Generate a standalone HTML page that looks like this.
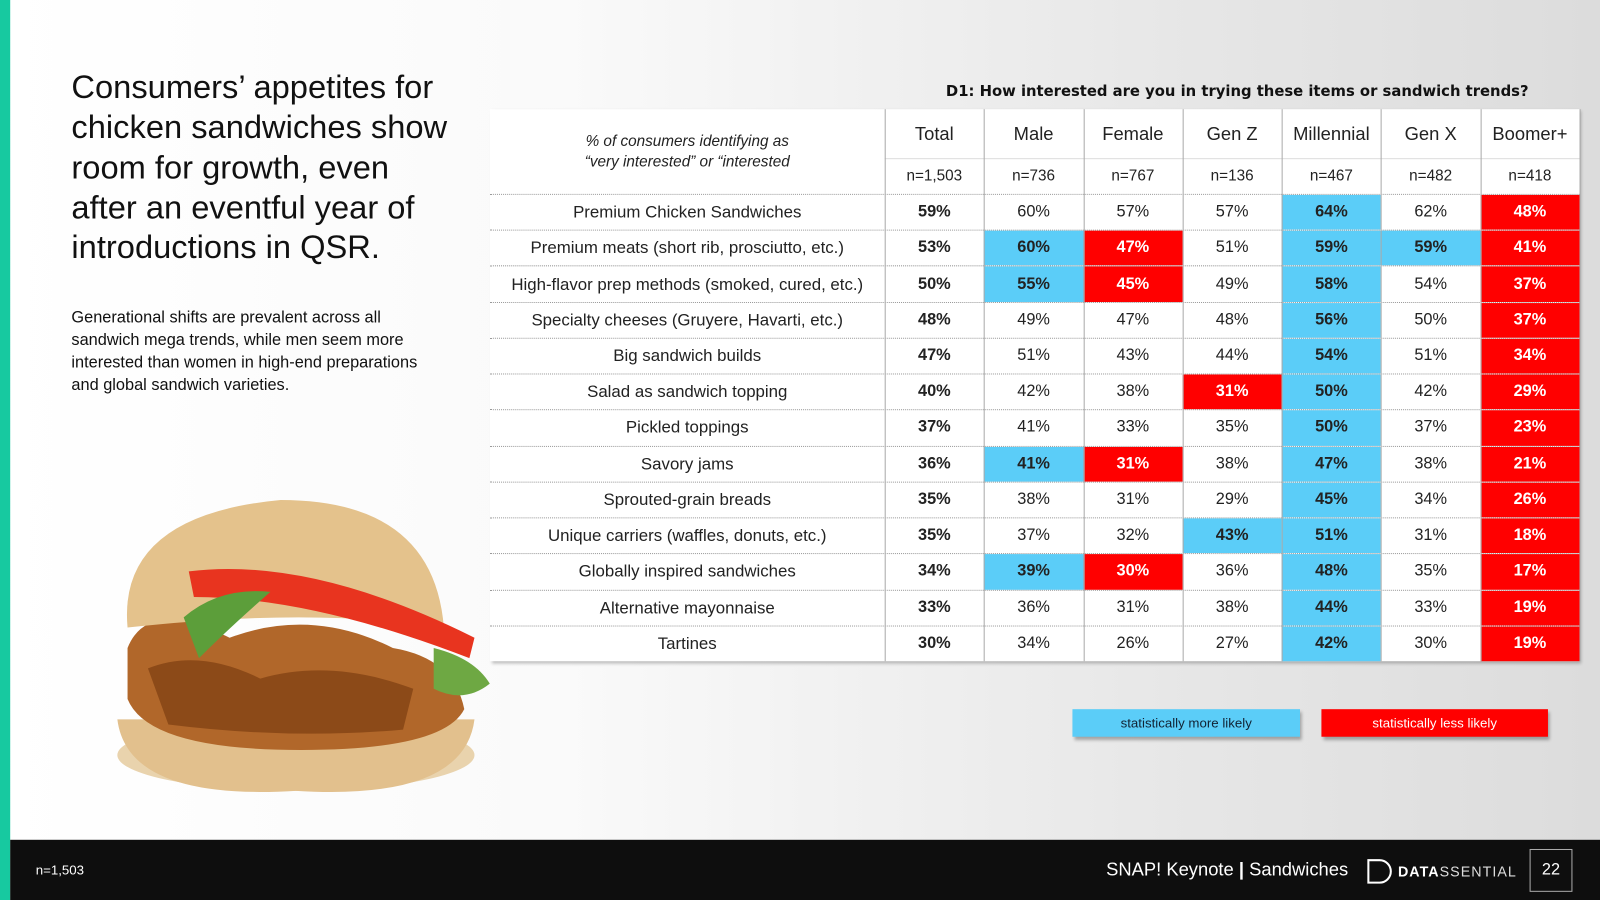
<!DOCTYPE html>
<html><head><meta charset="utf-8">
<style>
html,body{margin:0;padding:0;width:1600px;height:900px;overflow:hidden}
#wrap{position:absolute;left:0;top:0;width:1568px;height:882px;transform:scale(1.020408);transform-origin:0 0;
background:linear-gradient(90deg,#ffffff 0%,#fafafa 35%,#e6e6e6 75%,#dcdcdc 100%);font-family:"Liberation Sans",sans-serif;overflow:hidden}
.abs{position:absolute}
#title{left:70px;top:66px;font-size:32px;line-height:39.3px;color:#111;font-family:"Liberation Sans",sans-serif}
#para{left:70px;top:301px;font-size:16px;line-height:22px;color:#111;width:420px;white-space:nowrap;font-family:"Liberation Sans",sans-serif}
.cell{position:absolute;display:flex;align-items:center;justify-content:center;font-size:16px;color:#222;box-sizing:border-box}
.rowline{position:absolute;height:0;border-top:1px dotted #999}
.vline{position:absolute;width:0;border-left:1px solid #aaa}
</style></head><body>
<div id="wrap">
<div class="abs" style="left:0;top:0;width:10px;height:882px;background:#17c9a0"></div>
<div id="title" class="abs">Consumers’ appetites for<br>chicken sandwiches show<br>room for growth, even<br>after an eventful year of<br>introductions in QSR.</div>
<div id="para" class="abs">Generational shifts are prevalent across all<br>sandwich mega trends, while men seem more<br>interested than women in high-end preparations<br>and global sandwich varieties.</div>

<svg class="abs" style="left:105px;top:485px" width="385" height="295">
<ellipse cx="185" cy="255" rx="175" ry="35" fill="#e9d3ad"/>
<path d="M10 220 Q20 300 185 290 Q350 300 360 220 Z" fill="#e2c08d"/>
<path d="M20 150 Q40 100 120 140 Q200 110 280 150 Q340 160 350 210 Q330 250 190 250 Q40 250 20 200 Z" fill="#b1672a"/>
<path d="M40 170 Q90 150 150 180 Q220 160 300 190 L290 230 Q180 240 60 225 Z" fill="#8c4a18"/>
<path d="M20 130 Q10 20 170 5 Q320 5 330 130 Q200 110 20 130 Z" fill="#e4c28c"/>
<path d="M80 75 Q200 60 360 140 L355 160 Q200 100 85 100 Z" fill="#e8341f"/>
<path d="M75 120 Q110 90 160 95 Q120 130 90 160 Z" fill="#5c9e3a"/>
<path d="M320 150 Q360 160 375 185 Q350 205 320 190 Z" fill="#6ea843"/>
</svg>

<div class="abs" style="left:860px;top:82px;width:638px;text-align:right;font-family:'DejaVu Sans',sans-serif;font-weight:bold;font-size:14.5px;color:#111">D1: How interested are you in trying these items or sandwich trends?</div>

<div id="table" class="abs" style="left:480px;top:107px;width:1068px;height:541px;background:#fff;box-shadow:2px 2px 3px rgba(0,0,0,0.25)"></div>

<div class="abs" style="left:1051px;top:695px;width:223px;height:27px;background:#5bcdf8;box-shadow:2px 3px 3px rgba(0,0,0,0.3);font-size:13px;color:#123;display:flex;align-items:center;justify-content:center">statistically more likely</div>
<div class="abs" style="left:1295px;top:695px;width:222px;height:27px;background:#ff0000;box-shadow:2px 3px 3px rgba(0,0,0,0.3);font-size:13px;color:#fff;display:flex;align-items:center;justify-content:center">statistically less likely</div>

<div class="abs" style="left:10px;top:823px;width:1558px;height:59px;background:#0e0e0e"></div>
<div class="abs" style="left:35px;top:845px;font-size:13px;color:#fff">n=1,503</div>
<div class="abs" style="left:1084px;top:842px;font-size:18px;color:#fff">SNAP! Keynote <b>|</b> Sandwiches</div>
<div class="abs" style="left:1340px;top:842px;width:24px;height:24px;border:2px solid #fff;border-radius:0 12px 12px 0;box-sizing:border-box"></div>
<div class="abs" style="left:1370px;top:846px;font-size:14px;color:#fff;letter-spacing:1px;font-family:'Liberation Sans',sans-serif"><b>DATA</b><span style="font-weight:300;color:#ddd">SSENTIAL</span></div>
<div class="abs" style="left:1499px;top:832px;width:42px;height:42px;border:1px solid #aaa;box-sizing:border-box;color:#fff;font-size:16px;display:flex;align-items:center;justify-content:center">22</div>
</div>
<script>
const columns=["Total","Male","Female","Gen Z","Millennial","Gen X","Boomer+"];
const sampleSizes=["n=1,503","n=736","n=767","n=136","n=467","n=482","n=418"];
const rowLabels=["Premium Chicken Sandwiches","Premium meats (short rib, prosciutto, etc.)","High-flavor prep methods (smoked, cured, etc.)","Specialty cheeses (Gruyere, Havarti, etc.)","Big sandwich builds","Salad as sandwich topping","Pickled toppings","Savory jams","Sprouted-grain breads","Unique carriers (waffles, donuts, etc.)","Globally inspired sandwiches","Alternative mayonnaise","Tartines"];
const values=[
[59,60,57,57,64,62,48],[53,60,47,51,59,59,41],[50,55,45,49,58,54,37],[48,49,47,48,56,50,37],
[47,51,43,44,54,51,34],[40,42,38,31,50,42,29],[37,41,33,35,50,37,23],[36,41,31,38,47,38,21],
[35,38,31,29,45,34,26],[35,37,32,43,51,31,18],[34,39,30,36,48,35,17],[33,36,31,38,44,33,19],[30,34,26,27,42,30,19]];
const significance=[
"....b.r",".br.bbr",".br.b.r","....b.r","....b.r","...rb.r","....b.r",".br.b.r","....b.r","...bb.r",".br.b.r","....b.r","....b.r"];
const T=document.getElementById('table');
const labelW=387,colW=(1068-387)/7,h1=48,h2=35,rowH=(541-h1-h2)/rowLabels.length;
function add(x,y,w,h,txt,name,style){const d=document.createElement('div');d.className='cell';
d.style.left=x+'px';d.style.top=y+'px';d.style.width=w+'px';d.style.height=h+'px';d.textContent=txt;
if(style)Object.assign(d.style,style);


T.appendChild(d);return d;}
const hl=add(0,0,labelW,h1+h2,"","row-header-label",{fontStyle:'italic',fontSize:'15px',textAlign:'center',lineHeight:'20px'});
hl.innerHTML="% of consumers identifying as<br>“very interested” or “interested";
columns.forEach((c,i)=>{const x=labelW+i*colW;
add(x,0,colW,h1,c,'column-header-'+i,{fontSize:'18px'});
add(x,h1,colW,h2,sampleSizes[i],'sample-size-'+i,{fontSize:'15px'});});
rowLabels.forEach((r,ri)=>{const y=h1+h2+ri*rowH;
add(0,y+1,labelW,rowH,r,'row-label-'+ri,{fontSize:'16.5px'});
values[ri].forEach((v,ci)=>{const s=significance[ri][ci];const st={};
if(ci===0)st.fontWeight='bold';
if(s==='b'){st.background='#5bcdf8';st.fontWeight='bold';}
if(s==='r'){st.background='#ff0000';st.color='#fff';st.fontWeight='bold';}
add(labelW+ci*colW,y+1,colW,rowH-1,v+'%','cell-'+ri+'-'+ci,st);});
const l=document.createElement('div');l.className='rowline';l.style.left='0px';l.style.width='1068px';l.style.top=y+'px';


T.appendChild(l);});
const hd=document.createElement('div');hd.className='rowline';hd.style.left=labelW+'px';hd.style.width=(1068-labelW)+'px';hd.style.top=h1+'px';hd.style.borderTop='1px solid #ddd';


T.appendChild(hd);
for(let i=0;i<=7;i++){const v=document.createElement('div');v.className='vline';v.style.left=(labelW+i*colW)+'px';v.style.top='0px';v.style.height='541px';


T.appendChild(v);}
</script>
</body></html>
